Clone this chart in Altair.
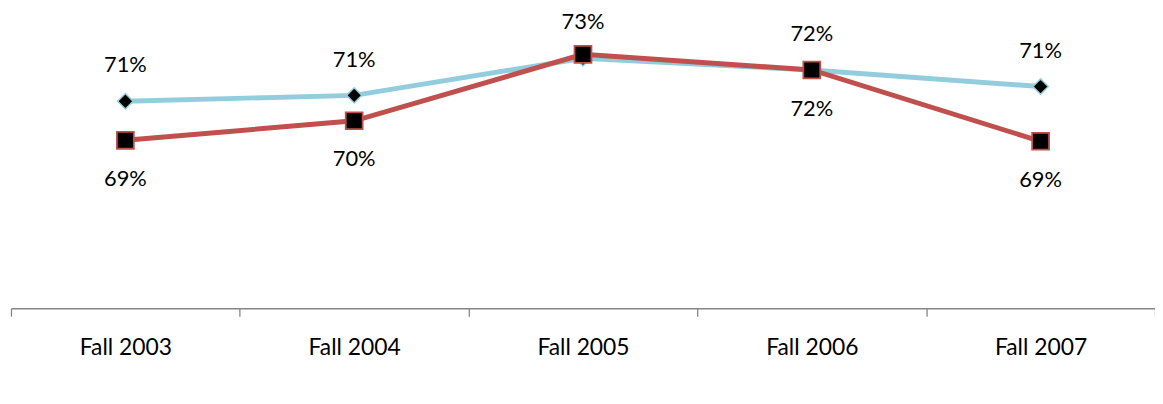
import altair as alt
import pandas as pd

periods = ["Fall 2003", "Fall 2004", "Fall 2005", "Fall 2006", "Fall 2007"]
series_names = ["All Colleges", "City College"]
all_colleges = [0.706, 0.709, 0.728, 0.722, 0.7135]
city_college = [0.686, 0.696, 0.730, 0.722, 0.6855]
all_label_pos = ["above", "above", "none", "above", "above"]
city_label_pos = ["below", "below", "top", "below", "below"]

line_colors = ["#93CDDD", "#C0504D"]

rows = []
for p, v, lp in zip(periods, all_colleges, all_label_pos):
    rows.append({"period": p, "value": v, "series": series_names[0], "pos": lp})
for p, v, lp in zip(periods, city_college, city_label_pos):
    rows.append({"period": p, "value": v, "series": series_names[1], "pos": lp})
df = pd.DataFrame(rows)

FONT = "Lato"

x_enc = alt.X(
    "period:N",
    sort=periods,
    bandPosition=0.5,
    scale=alt.Scale(type="band", paddingInner=0, paddingOuter=0),
    axis=alt.Axis(
        title=None,
        tickBand="extent",
        domainColor="#868686",
        tickColor="#868686",
        domainWidth=1.3,
        tickWidth=1.3,
        tickSize=8,
        labelFont=FONT,
        labelFontSize=23,
        labelColor="black",
        labelPadding=21,
        labelAngle=0,
        grid=False,
    ),
)
y_enc = alt.Y(
    "value:Q",
    scale=alt.Scale(domain=[0.60, 0.75], zero=False, nice=False),
    axis=None,
)

base = alt.Chart(df)

lines = base.mark_line(strokeWidth=5).encode(
    x=x_enc,
    y=y_enc,
    color=alt.Color(
        "series:N",
        scale=alt.Scale(domain=series_names, range=line_colors),
        legend=None,
    ),
    detail="series:N",
)

pts_all = base.transform_filter(alt.datum.series == series_names[0]).mark_point(
    shape="diamond", filled=True, fill="black", stroke=line_colors[0],
    strokeWidth=1.5, size=240, opacity=1,
).encode(x=x_enc, y=y_enc)

pts_city = base.transform_filter(alt.datum.series == series_names[1]).mark_point(
    shape="square", filled=True, fill="black", stroke=line_colors[1],
    strokeWidth=1.8, size=290, opacity=1,
).encode(x=x_enc, y=y_enc)

text_props = dict(font=FONT, fontSize=22, color="black", baseline="middle", align="center")


def label_layer(pos, dy):
    return base.transform_filter(alt.datum.pos == pos).mark_text(dy=dy, **text_props).encode(
        x=x_enc, y=y_enc, text=alt.Text("value:Q", format=".0%")
    )


labels_above = label_layer("above", -36)
labels_below = label_layer("below", 39)
labels_top = label_layer("top", -33)

path_diamond = "M-1,0H-0.26M0.26,0H1M0,-0.26L0.26,0L0,0.26L-0.26,0Z"
path_square = "M-1,0H-0.3M0.3,0H1M-0.3,-0.3H0.3V0.3H-0.3Z"

shape_leg = alt.Legend(
    title=" ",
    titleOrient="left",
    titleFontSize=1,
    titlePadding=383,
    orient="bottom",
    offset=-9,
    direction="horizontal",
    symbolSize=2916,
    symbolStrokeWidth=4,
    symbolFillColor="black",
    symbolOpacity=1,
    labelFont=FONT,
    labelFontSize=22,
    labelColor="black",
    labelOffset=6,
    columnPadding=32,
    padding=0,
)

legend_layer = base.mark_point(filled=True, fill="black", opacity=0).encode(
    x=x_enc,
    y=y_enc,
    stroke=alt.Stroke("series:N", scale=alt.Scale(domain=series_names, range=line_colors), legend=None),
    shape=alt.Shape("series:N", scale=alt.Scale(domain=series_names, range=[path_diamond, path_square]), legend=shape_leg),
)

chart = alt.layer(
    lines, pts_all, pts_city, labels_above, labels_below, labels_top, legend_layer
).properties(
    width=1152,
    height=295,
    autosize=alt.AutoSizeParams(type="none"),
    padding={"left": 3, "top": 6, "right": 0, "bottom": 86},
).configure(background="white").configure_view(stroke=None)

chart.save("out.html", embed_options={"renderer": "svg", "actions": False})
